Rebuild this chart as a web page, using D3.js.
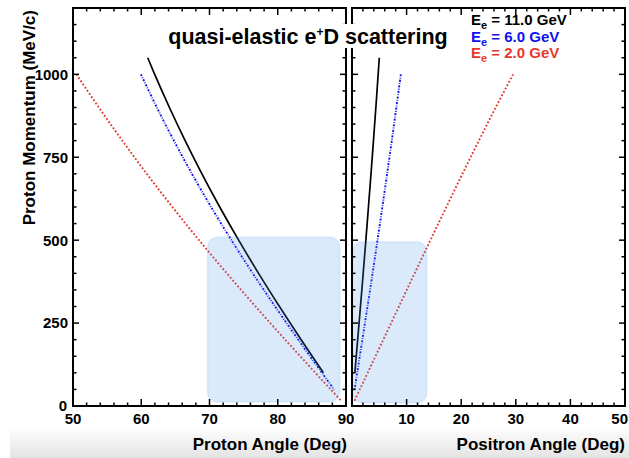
<!DOCTYPE html>
<html>
<head>
<meta charset="utf-8">
<script src="https://cdn.jsdelivr.net/npm/d3@7"></script>
<style>
  html, body { margin: 0; padding: 0; background: #fff; }
  svg { display: block; }
  text { font-family: "Liberation Sans", Arial, Helvetica, sans-serif; font-weight: bold; }
</style>
</head>
<body>
<svg id="chart" width="629" height="458"></svg>
<script>
// Quasi-elastic e+D kinematics: proton momentum (MeV/c) against proton and positron angles (deg)
const beamLabels = ["11.0", "6.0", "2.0"];
const beamColors = ["#000000", "#1010f0", "#e6392e"];

// 11.0 GeV beam
const momentum11 = [1050, 1000, 900, 800, 700, 600, 500, 400, 300, 200, 100];
const protonAngle11 = [60.95, 61.97, 64.13, 66.43, 68.89, 71.50, 74.27, 77.19, 80.25, 83.43, 86.69];
const positronAngle11 = [5.00, 4.79, 4.37, 3.93, 3.48, 3.01, 2.54, 2.05, 1.55, 1.04, 0.52];

// 6.0 GeV beam
const momentum6 = [1000, 900, 800, 700, 600, 500, 400, 300, 200, 100, 50];
const protonAngle6 = [59.95, 62.29, 64.78, 67.43, 70.24, 73.21, 76.34, 79.61, 83.00, 86.48, 88.24];
const positronAngle6 = [8.95, 8.12, 7.29, 6.43, 5.56, 4.67, 3.77, 2.84, 1.90, 0.95, 0.48];

// 2.0 GeV beam
const momentum2 = [1000, 900, 800, 700, 600, 500, 400, 300, 200, 100, 50, 15];
const protonAngle2 = [50.50, 53.79, 57.23, 60.81, 64.56, 68.47, 72.54, 76.75, 81.09, 85.52, 87.76, 89.33];
const positronAngle2 = [29.50, 26.32, 23.23, 20.23, 17.28, 14.36, 11.47, 8.60, 5.73, 2.87, 1.43, 0.43];

// Detector acceptance windows: [angle min, angle max, momentum min, momentum max]
const protonAcceptance = [69.7, 89.1, 12, 509];
const positronAcceptance = [0.05, 13.7, 9, 495];

// Axis ticks
const protonAngleTicks = [50, 60, 70, 80, 90];
const positronAngleTicks = [10, 20, 30, 40, 50];
const momentumTicks = [0, 250, 500, 750, 1000];

const svg = d3.select("#chart");
const W = 629, H = 458;

// faint shading along the bottom edge
const defs = svg.append("defs");
const grad = defs.append("linearGradient").attr("id", "bottomShade")
  .attr("x1", 0).attr("y1", 0).attr("x2", 0).attr("y2", 1);
grad.append("stop").attr("offset", "0%").attr("stop-color", "#ffffff");
grad.append("stop").attr("offset", "100%").attr("stop-color", "#e4e4e4");
svg.append("rect").attr("x", 10).attr("y", 426).attr("width", W - 10).attr("height", H - 426)
  .attr("fill", "url(#bottomShade)");

const frameTop = 8, frameBottom = 406;
const y = d3.scaleLinear().domain([0, 1200]).range([frameBottom, frameTop]);
const xL = d3.scaleLinear().domain([50, 90]).range([73, 346]);
const xR = d3.scaleLinear().domain([0, 50]).range([352, 625]);

const styles = [
  { width: 1.7, dash: null },
  { width: 1.9, dash: "2,1.4,0.8,1.4" },
  { width: 1.9, dash: "1.8,2" }
];

const series = [
  { p: momentum11, pa: protonAngle11, ea: positronAngle11 },
  { p: momentum6, pa: protonAngle6, ea: positronAngle6 },
  { p: momentum2, pa: protonAngle2, ea: positronAngle2 }
];

function drawCurve(xs, angles, moms, i) {
  const pts = angles.map((a, k) => [a, moms[k]]);
  const line = d3.line().x(d => xs(d[0])).y(d => y(d[1])).curve(d3.curveCatmullRom);
  svg.append("path").datum(pts)
    .attr("d", line)
    .attr("fill", "none")
    .attr("stroke", beamColors[i])
    .attr("stroke-width", styles[i].width)
    .attr("stroke-dasharray", styles[i].dash);
}

// draw the 2 GeV curve first so the others sit on top
[2, 1, 0].forEach(i => {
  drawCurve(xL, series[i].pa, series[i].p, i);
  drawCurve(xR, series[i].ea, series[i].p, i);
});

// translucent acceptance boxes over the curves
function drawAcceptance(xs, a) {
  svg.append("rect")
    .attr("x", xs(a[0])).attr("y", y(a[3]))
    .attr("width", xs(a[1]) - xs(a[0]))
    .attr("height", y(a[2]) - y(a[3]))
    .attr("rx", 10).attr("ry", 10)
    .attr("fill", "rgba(70,150,235,0.2)")
    .attr("stroke", "rgba(70,150,235,0.1)")
    .attr("stroke-width", 2);
}
drawAcceptance(xL, protonAcceptance);
drawAcceptance(xR, positronAcceptance);

// frames with inward ticks
function drawFrame(xs, x0, x1) {
  const g = svg.append("g").attr("stroke", "#000").attr("fill", "none");
  const [a0, a1] = xs.domain();
  d3.range(a0, a1 + 0.001, 2).forEach(v => {
    const major = Math.abs(v % 10) < 1e-6;
    const len = major ? 7 : 3.5;
    const px = xs(v);
    g.append("line").attr("x1", px).attr("x2", px).attr("y1", frameBottom).attr("y2", frameBottom - len).attr("stroke-width", 1.5);
    g.append("line").attr("x1", px).attr("x2", px).attr("y1", frameTop).attr("y2", frameTop + len).attr("stroke-width", 1.5);
  });
  d3.range(0, 1200.001, 50).forEach(v => {
    const major = v % 250 === 0;
    const len = major ? 6 : 3.5;
    const py = y(v);
    g.append("line").attr("x1", x0).attr("x2", x0 + len).attr("y1", py).attr("y2", py).attr("stroke-width", 1.5);
    g.append("line").attr("x1", x1).attr("x2", x1 - len).attr("y1", py).attr("y2", py).attr("stroke-width", 1.5);
  });
  g.append("rect").attr("x", x0).attr("y", frameTop).attr("width", x1 - x0).attr("height", frameBottom - frameTop)
    .attr("stroke-width", 2);
}
drawFrame(xL, 73, 346);
drawFrame(xR, 352, 625);

// tick labels
const tickFont = 15;
svg.append("g").selectAll("text").data(momentumTicks).join("text")
  .attr("x", v => v === 0 ? 67 : 68)
  .attr("y", v => y(v))
  .attr("dy", "0.36em")
  .attr("text-anchor", "end")
  .attr("font-size", tickFont)
  .text(v => v);

svg.append("g").selectAll("text").data(protonAngleTicks).join("text")
  .attr("x", v => xL(v))
  .attr("y", 424)
  .attr("text-anchor", "middle")
  .attr("font-size", tickFont)
  .text(v => v);

// the last label sits against the right edge of the page
const lastTick = positronAngleTicks[positronAngleTicks.length - 1];
svg.append("g").selectAll("text").data(positronAngleTicks).join("text")
  .attr("x", v => v === lastTick ? W - 1 : xR(v))
  .attr("y", 424)
  .attr("text-anchor", v => v === lastTick ? "end" : "middle")
  .attr("font-size", tickFont)
  .text(v => v);

// axis titles
svg.append("text")
  .attr("transform", "translate(35,10) rotate(-90)")
  .attr("text-anchor", "end")
  .attr("font-size", 17)
  .text("Proton Momentum (MeV/c)");

svg.append("text").attr("x", 347).attr("y", 450).attr("text-anchor", "end")
  .attr("font-size", 17).text("Proton Angle (Deg)");
svg.append("text").attr("x", 625).attr("y", 450).attr("text-anchor", "end")
  .attr("font-size", 17).text("Positron Angle (Deg)");

// title with white backing
svg.append("rect").attr("x", 164).attr("y", 24).attr("width", 288).attr("height", 24).attr("fill", "#fff");
const title = svg.append("text").attr("x", 308).attr("y", 44).attr("text-anchor", "middle")
  .attr("font-size", 21.5);
title.append("tspan").text("quasi-elastic e");
title.append("tspan").attr("font-size", 12).attr("dy", -8).text("+");
title.append("tspan").attr("dy", 8).text("D scattering");

// legend
beamLabels.forEach((lab, i) => {
  const t = svg.append("text").attr("x", 471).attr("y", 25 + i * 16.5)
    .attr("font-size", 15).attr("fill", beamColors[i]);
  t.append("tspan").text("E");
  t.append("tspan").attr("font-size", 11).attr("dy", 4).text("e");
  t.append("tspan").attr("dy", -4).text(" = " + lab + " GeV");
});
</script>
</body>
</html>
